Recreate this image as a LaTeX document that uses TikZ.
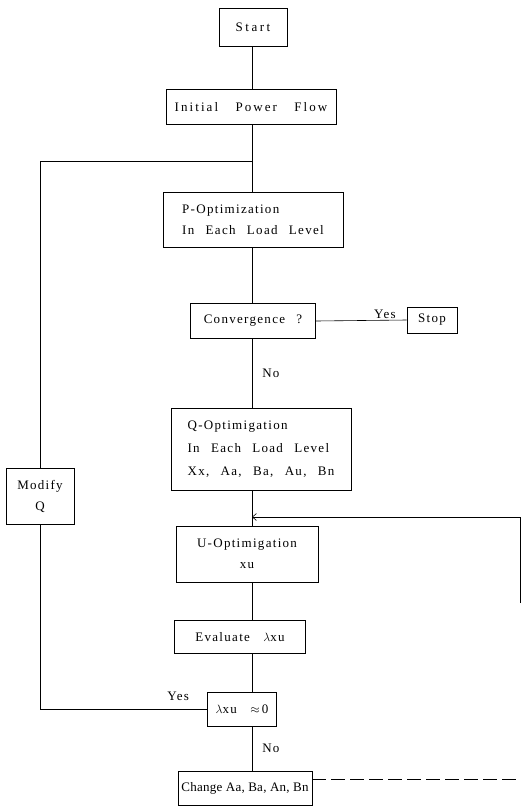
\documentclass[tikz,border=0pt]{standalone}
\usepackage{amsmath,amssymb}
\usepackage{fontspec}
\setmainfont{Liberation Serif}[LetterSpace=10,WordSpace=2.5]
\newfontfamily\tightfont{Liberation Serif}[LetterSpace=2]
\usepackage{tikz}
\usetikzlibrary{arrows.meta}

\tikzset{
  fbox/.style={draw, line width=0.6pt, inner sep=0pt, font=\fontsize{13}{21}\selectfont},
  flow/.style={line width=0.6pt},
  lbl/.style={font=\fontsize{13}{15}\selectfont, inner sep=1pt}
}

\begin{document}
\begin{tikzpicture}[x=1pt, y=-1pt, >={Straight Barb[length=4pt,width=7pt]}]
  \useasboundingbox (0,0) rectangle (521,806);
  \coordinate (sp) at (252,0);
  \node[fbox, minimum width=68, minimum height=38] (start) at (253,27) {S\kern2.5pt t\kern2.5pt a\kern2.5pt r\kern2.5pt t};
  \node[fbox, minimum width=170, minimum height=35] (ipf) at (251,107) {\addfontfeature{LetterSpace=16}Initial \hspace*{4pt}Power \hspace*{4pt}Flow};
  \node[fbox, minimum width=180, minimum height=55, align=left] (popt) at (253,220) {P-Optimization\\In Each Load Level};
  \node[fbox, minimum width=125, minimum height=35] (conv) at (253,321) {Convergence ?};
  \node[fbox, minimum width=50, minimum height=26] (stop) at (432,320) {Stop};
  \node[fbox, minimum width=180, minimum height=82, align=left, font=\fontsize{13}{23}\selectfont] (qopt) at (261,449) {Q-Optimigation\\In Each Load Level\\Xx, Aa, Ba, Au, Bn};
  \node[fbox, minimum width=68, minimum height=56, align=center] (modify) at (40,496) {Modify\\Q};
  \node[fbox, minimum width=142, minimum height=56, align=center] (uopt) at (247,554) {U-Optimigation\\xu};
  \node[fbox, minimum width=131, minimum height=33] (eval) at (240,637) {Evaluate \,$\lambda$xu};
  \node[fbox, minimum width=69, minimum height=34] (lam) at (242,709) {$\lambda$xu \,$\approx$\,0};
  \node[fbox, minimum width=134, minimum height=34] (change) at (245,788) {\tightfont Change Aa, Ba, An, Bn};

  \coordinate (jtop) at (252,161);
  \coordinate (merge) at (252,517);
  \coordinate (rbot) at (520,603);
  \coordinate (rend) at (521,779);

  % main spine
  \draw[flow] (start.south -| sp) -- (ipf.north -| sp);
  \draw[flow] (ipf.south -| sp) -- (popt.north -| sp);
  \draw[flow] (popt.south -| sp) -- (conv.north -| sp);
  \draw[flow] (conv.south -| sp) -- node[lbl, right=9pt] {No} (qopt.north -| sp);
  \draw[flow] (qopt.south -| sp) -- (uopt.north -| sp);
  \draw[flow] (uopt.south -| sp) -- (eval.north -| sp);
  \draw[flow] (eval.south -| sp) -- (lam.north -| sp);
  \draw[flow] (lam.south -| sp) -- node[lbl, right=9pt] {No} (change.north -| sp);

  % branches and loops
  \draw[flow] (conv.east) -- node[lbl, above, pos=0.76] {Yes} (stop.west);
  \draw[flow] (modify.north) |- (jtop);
  \draw[flow] (lam.west) -| (modify.south);
  \node[lbl, anchor=south east] (yes) at ([xshift=-17pt, yshift=7pt]lam.west) {Yes};
  \draw[flow, ->] (rbot) |- (merge);
  \draw[flow, dash pattern=on 14pt off 5pt] (change.east |- rend) -- (rend);
\end{tikzpicture}
\end{document}
